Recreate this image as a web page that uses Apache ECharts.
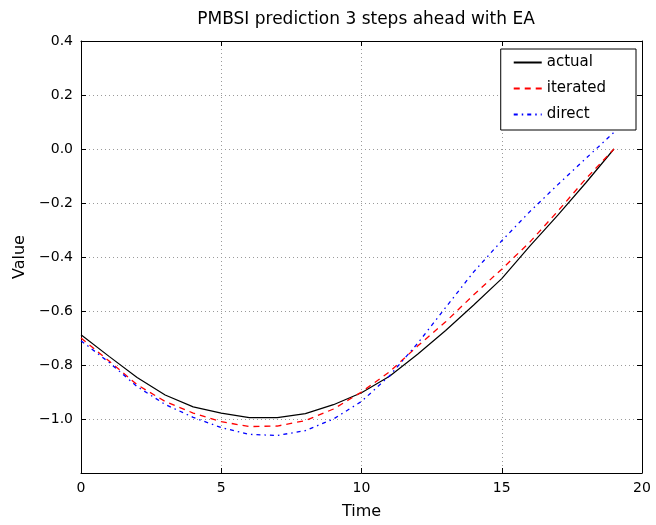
<!DOCTYPE html>
<html>
<head>
<meta charset="utf-8">
<script src="https://cdn.jsdelivr.net/npm/echarts@6/dist/echarts.min.js"></script>
<style>
  html, body { margin: 0; padding: 0; background: #fff; }
  #chart { width: 656px; height: 525px; }
</style>
</head>
<body>
<div id="chart"></div>
<script>
var times = [0, 1, 2, 3, 4, 5, 6, 7, 8, 9, 10, 11, 12, 13, 14, 15, 16, 17, 18, 19];
var actual = [-0.688, -0.768, -0.846, -0.911, -0.955, -0.978, -0.995, -0.995, -0.98, -0.947,
              -0.903, -0.842, -0.76, -0.672, -0.578, -0.48, -0.36, -0.245, -0.125, 0.0];
var iterated = [-0.70, -0.785, -0.873, -0.935, -0.978, -1.01, -1.028, -1.026, -1.006, -0.963,
                -0.90, -0.825, -0.73, -0.64, -0.54, -0.445, -0.345, -0.23, -0.11, 0.0];
var direct = [-0.71, -0.79, -0.88, -0.946, -0.994, -1.032, -1.057, -1.061, -1.043, -1.0,
              -0.935, -0.84, -0.72, -0.587, -0.455, -0.34, -0.232, -0.132, -0.035, 0.062];
var xTicks = [0, 5, 10, 15, 20];
var yTicks = [-1.2, -1.0, -0.8, -0.6, -0.4, -0.2, 0.0, 0.2, 0.4];

function pairs(vals) {
    var out = [];
    for (var i = 0; i < times.length; i++) {
        out.push([times[i], vals[i]]);
    }
    return out;
}

function fmtY(v) {
    return v.toFixed(1).replace('-', '\u2212');
}

var font = 'DejaVu Sans';
var tickStyle = { show: true, inside: true, length: 5, lineStyle: { color: '#000', width: 1 } };
var gridStyle = { show: true, lineStyle: { color: '#9a9a9a', type: [1, 3], width: 1 } };

var myChart = echarts.init(document.getElementById('chart'));
var option = {
    backgroundColor: '#fff',
    animation: false,
    title: {
        text: 'PMBSI prediction 3 steps ahead with EA',
        left: 361,
        textAlign: 'center',
        top: 6,
        textStyle: { fontFamily: font, fontSize: 17, fontWeight: 'normal', color: '#000' }
    },
    legend: {
        orient: 'vertical',
        right: 20,
        top: 49,
        padding: [6, 30, 8, 12],
        itemWidth: 28,
        itemHeight: 14,
        itemGap: 11,
        backgroundColor: '#fff',
        borderColor: '#000',
        borderWidth: 1,
        borderRadius: 0,
        itemStyle: { opacity: 0 },
        textStyle: { fontFamily: font, fontSize: 15, color: '#000' },
        data: ['actual', 'iterated', 'direct']
    },
    grid: { left: 81, right: 14, top: 41, bottom: 50 },
    xAxis: [
        {
            type: 'value',
            min: xTicks[0],
            max: xTicks[xTicks.length - 1],
            interval: 5,
            name: 'Time',
            nameLocation: 'middle',
            nameGap: 31,
            nameTextStyle: { fontFamily: font, fontSize: 16, color: '#000' },
            axisLine: { show: true, onZero: false, lineStyle: { color: '#000', width: 1 } },
            axisTick: tickStyle,
            axisLabel: { fontFamily: font, fontSize: 14, color: '#000', margin: 8 },
            splitLine: gridStyle
        },
        {
            type: 'value',
            position: 'top',
            min: xTicks[0],
            max: xTicks[xTicks.length - 1],
            interval: 5,
            axisLine: { show: true, onZero: false, lineStyle: { color: '#000', width: 1 } },
            axisTick: tickStyle,
            axisLabel: { show: false },
            splitLine: { show: false }
        }
    ],
    yAxis: [
        {
            type: 'value',
            min: yTicks[0],
            max: yTicks[yTicks.length - 1],
            interval: 0.2,
            name: 'Value',
            nameLocation: 'middle',
            nameGap: 46,
            nameTextStyle: { fontFamily: font, fontSize: 16, color: '#000' },
            axisLine: { show: true, onZero: false, lineStyle: { color: '#000', width: 1 } },
            axisTick: tickStyle,
            axisLabel: {
                fontFamily: font, fontSize: 14, color: '#000', margin: 8,
                showMinLabel: false,
                formatter: fmtY
            },
            splitLine: gridStyle
        },
        {
            type: 'value',
            position: 'right',
            min: yTicks[0],
            max: yTicks[yTicks.length - 1],
            interval: 0.2,
            axisLine: { show: true, onZero: false, lineStyle: { color: '#000', width: 1 } },
            axisTick: tickStyle,
            axisLabel: { show: false },
            splitLine: { show: false }
        }
    ],
    series: [
        {
            name: 'actual',
            type: 'line',
            data: pairs(actual),
            symbol: 'none',
            lineStyle: { color: '#000', width: 1.2, type: 'solid' },
            itemStyle: { color: '#000' },
            z: 3
        },
        {
            name: 'iterated',
            type: 'line',
            data: pairs(iterated),
            symbol: 'none',
            lineStyle: { color: '#ff0000', width: 1.3, type: [6, 5] },
            itemStyle: { color: '#ff0000' },
            z: 4
        },
        {
            name: 'direct',
            type: 'line',
            data: pairs(direct),
            symbol: 'none',
            lineStyle: { color: '#0000ff', width: 1.3, type: [4, 4, 1.5, 4] },
            itemStyle: { color: '#0000ff' },
            z: 5
        }
    ]
};
myChart.setOption(option);
</script>
</body>
</html>
